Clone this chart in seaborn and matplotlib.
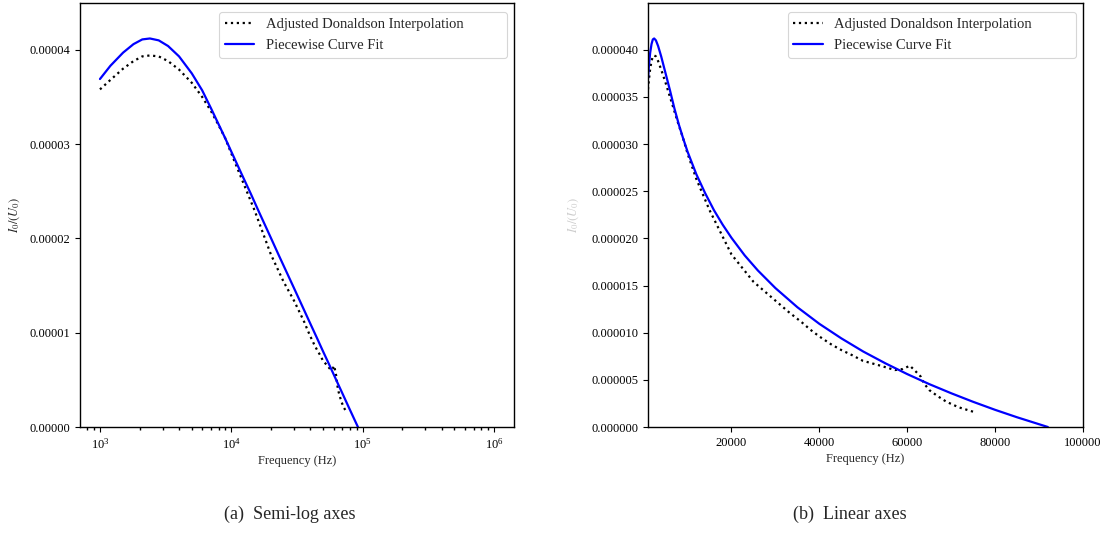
import numpy as np
import pandas as pd
import matplotlib
matplotlib.use("Agg")
import matplotlib.pyplot as plt
from matplotlib.ticker import FormatStrFormatter
import seaborn as sns

# ---- data ----
fit_freq = [1000, 1200, 1500, 1800, 2100, 2400, 2800, 3300, 4000, 5000, 6000,
            7000, 8000, 9000, 10000, 12000, 14000, 16000, 18000, 20000, 23000,
            26000, 30000, 35000, 40000, 45000, 50000, 55000, 60000, 65000,
            70000, 75000, 80000, 85000, 92000]
fit_vals = [3.69, 3.83, 3.97, 4.06, 4.11, 4.12, 4.10, 4.04, 3.93, 3.75, 3.57,
            3.38, 3.21, 3.06, 2.92, 2.68, 2.48, 2.30, 2.145, 2.006, 1.82,
            1.66, 1.473, 1.27, 1.094, 0.94, 0.80, 0.676, 0.561, 0.455,
            0.358, 0.267, 0.182, 0.103, 0.0]

don_freq = [1000, 1200, 1500, 1800, 2100, 2400, 2800, 3300, 4000, 5000, 6000,
            7000, 8000, 9000, 10000, 12000, 15000, 20000, 25000, 30000, 33000,
            36000, 38000, 40000, 42700, 45000, 47400, 49900, 53900, 57200,
            59000, 60600, 62000, 63100, 63800, 65000, 66900, 68900, 71700,
            75000]
don_vals = [3.58, 3.68, 3.80, 3.88, 3.93, 3.94, 3.93, 3.88, 3.79, 3.65, 3.50,
            3.35, 3.20, 3.06, 2.90, 2.63, 2.30, 1.83, 1.54, 1.34, 1.22,
            1.11, 1.03, 0.96, 0.876, 0.816, 0.763, 0.702, 0.65, 0.604,
            0.615, 0.65, 0.586, 0.533, 0.463, 0.392, 0.328, 0.268, 0.209,
            0.162]

scale = 1e-5
fit_df = pd.DataFrame({"freq": fit_freq, "val": np.array(fit_vals) * scale})
don_df = pd.DataFrame({"freq": don_freq, "val": np.array(don_vals) * scale})

label_don = "Adjusted Donaldson Interpolation"
label_fit = "Piecewise Curve Fit"
ylab = r"$I_0/(U_0)$"
xlab = "Frequency (Hz)"
captions = ["(a)  Semi-log axes", "(b)  Linear axes"]

sns.set_theme(style="ticks")
plt.rcParams["font.family"] = ["Liberation Serif", "DejaVu Serif"]
plt.rcParams["mathtext.fontset"] = "stix"
plt.rcParams["axes.edgecolor"] = "black"
plt.rcParams["axes.linewidth"] = 1.0
plt.rcParams["xtick.color"] = "black"
plt.rcParams["ytick.color"] = "black"
plt.rcParams["xtick.major.size"] = 3.5
plt.rcParams["ytick.major.size"] = 3.5
plt.rcParams["xtick.minor.size"] = 2.0
plt.rcParams["xtick.major.width"] = 0.8
plt.rcParams["ytick.major.width"] = 0.8

fig = plt.figure(figsize=(11.07, 5.42), dpi=100)
ax1 = fig.add_axes([80 / 1107, 115 / 542, 434 / 1107, 423.7 / 542])
ax2 = fig.add_axes([648 / 1107, 115 / 542, 435 / 1107, 423.7 / 542])

tick_fs = 9
leg_fs = 10.5

for ax, logx in ((ax1, True), (ax2, False)):
    if logx:
        ax.set_xscale("log")
    sns.lineplot(data=don_df, x="freq", y="val", ax=ax, color="black",
                 linestyle=":", linewidth=1.6, label=label_don)
    sns.lineplot(data=fit_df, x="freq", y="val", ax=ax, color="blue",
                 linewidth=1.6, label=label_fit)
    ax.set_ylim(0, 4.493e-5)
    ax.set_xlabel(xlab, fontsize=tick_fs, labelpad=3)
    ax.tick_params(labelsize=tick_fs, pad=3.5)
    leg = ax.legend(loc="upper left", bbox_to_anchor=(0.321, 0.0, 0.663, 0.979),
                    mode="expand", borderaxespad=0, fontsize=leg_fs,
                    frameon=True, framealpha=0.8, edgecolor="0.8",
                    fancybox=True)
    leg.get_frame().set_linewidth(0.8)
    for s in ax.spines.values():
        s.set_visible(True)
        s.set_color("black")

ax1.set_xlim(10 ** 2.848, 10 ** 6.152)
ax1.set_yticks([0, 1e-5, 2e-5, 3e-5, 4e-5])
ax1.yaxis.set_major_formatter(FormatStrFormatter("%.5f"))
ax1.set_ylabel(ylab, fontsize=tick_fs)
ax1.yaxis.set_label_coords(-0.134, 0.5)

ax2.set_xlim(1000, 100000)
ax2.set_xticks([20000, 40000, 60000, 80000, 100000])
ax2.xaxis.set_major_formatter(FormatStrFormatter("%d"))
ax2.yaxis.set_major_formatter(FormatStrFormatter("%.6f"))
ax2.set_ylabel(ylab, fontsize=tick_fs, color="0.8")
ax2.yaxis.set_label_coords(-0.154, 0.5)

fig.text(290 / 1107, 1 - 514 / 542, captions[0], ha="center",
         va="center", fontsize=13)
fig.text(850 / 1107, 1 - 514 / 542, captions[1], ha="center",
         va="center", fontsize=13)

fig.savefig("out.png", dpi=100)
